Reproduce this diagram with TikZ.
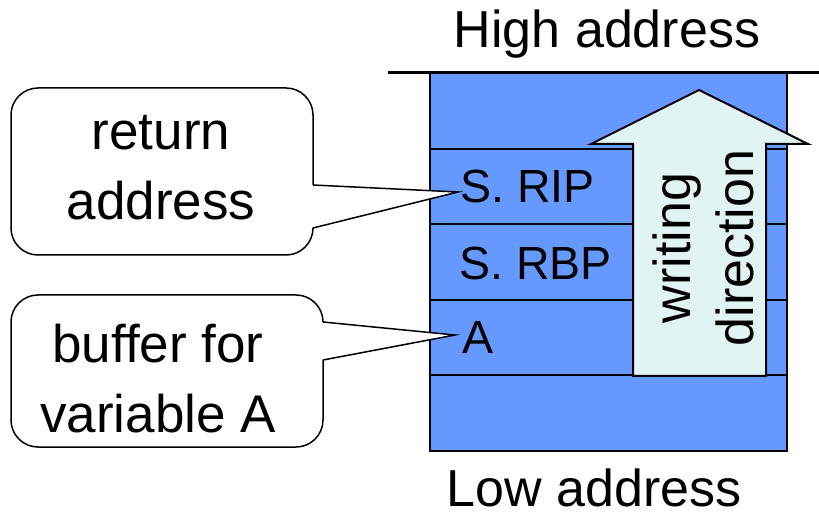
\documentclass[tikz,border=0pt]{standalone}
\usepackage{fontspec}
\setmainfont{Liberation Sans}
\definecolor{stackblue}{RGB}{102,153,255}
\definecolor{arrowfill}{RGB}{226,243,243}
\begin{document}
\begin{tikzpicture}[x=1pt,y=-1pt,
  rowbox/.style={draw=black,line width=2pt,fill=stackblue,minimum width=357pt,
    minimum height=75.6pt,inner sep=0pt,outer sep=0pt,anchor=north west},
  bigtext/.style={font=\fontsize{52}{60}\selectfont,inner sep=0pt,anchor=base},
  celltext/.style={font=\fontsize{46.5}{50}\selectfont,inner sep=0pt,anchor=base west},
  calloutbox/.style={draw=black,line width=1.5pt,fill=white,rounded corners=27pt,
    inner sep=0pt,outer sep=0pt},
  callouttext/.style={font=\fontsize{53}{70}\selectfont,align=center,inner sep=0pt},
  pointer/.style={draw=black,line width=1.5pt,line join=miter},
  arrowbody/.style={draw=black,line width=2pt,fill=arrowfill,line join=miter},
  topbar/.style={draw=black,line width=3pt}]
\useasboundingbox (0,0) rectangle (819,518);

% address labels
\node[bigtext] (high) at (607,48) {High address};
\node[bigtext] (low) at (594,506) {Low address};

% stack frame rows, top to bottom
\node[rowbox] (r0) at (430,73) {};
\node[rowbox] (r1) at (430,148.6) {};
\node[rowbox] (r2) at (430,224.2) {};
\node[rowbox] (r3) at (430,299.8) {};
\node[rowbox] (r4) at (430,375.4) {};
\draw[topbar] (388,73) -- (819,73);

% writing direction arrow
\draw[arrowbody] (633,376) -- (633,144) -- (591,144) -- (699,90) -- (808,144)
  -- (766,144) -- (766,376) -- cycle;
\node[font=\fontsize{52}{63}\selectfont,align=center,inner sep=0pt,rotate=90]
  (dir) at (703,248) {writing\\direction};

% cell labels
\node[celltext] (rip) at (460,203) {S. RIP};
\node[celltext] (rbp) at (459,280) {S. RBP};
\node[celltext] (va) at (462,354) {A};

% callout: return address
\node[calloutbox,minimum width=302pt,minimum height=167pt] (cret) at (162,171.5) {};
\coordinate (tipret) at (458,192);
\fill[white] ([xshift=-2pt]cret.east |- 0,185) -- (tipret) -- ([xshift=-2pt]cret.east |- 0,228) -- cycle;
\draw[pointer] (cret.east |- 0,185) -- (tipret) -- (cret.east |- 0,228);
\node[callouttext] (tret) at (161,167.5) {return\\address};

% callout: buffer for variable A
\node[calloutbox,minimum width=312pt,minimum height=152pt] (cbuf) at (167,371) {};
\coordinate (tipbuf) at (455,335);
\fill[white] ([xshift=-2pt]cbuf.east |- 0,322) -- (tipbuf) -- ([xshift=-2pt]cbuf.east |- 0,360) -- cycle;
\draw[pointer] (cbuf.east |- 0,322) -- (tipbuf) -- (cbuf.east |- 0,360);
\node[callouttext] (tbuf) at (158,379) {buffer for\\variable A};
\end{tikzpicture}
\end{document}
